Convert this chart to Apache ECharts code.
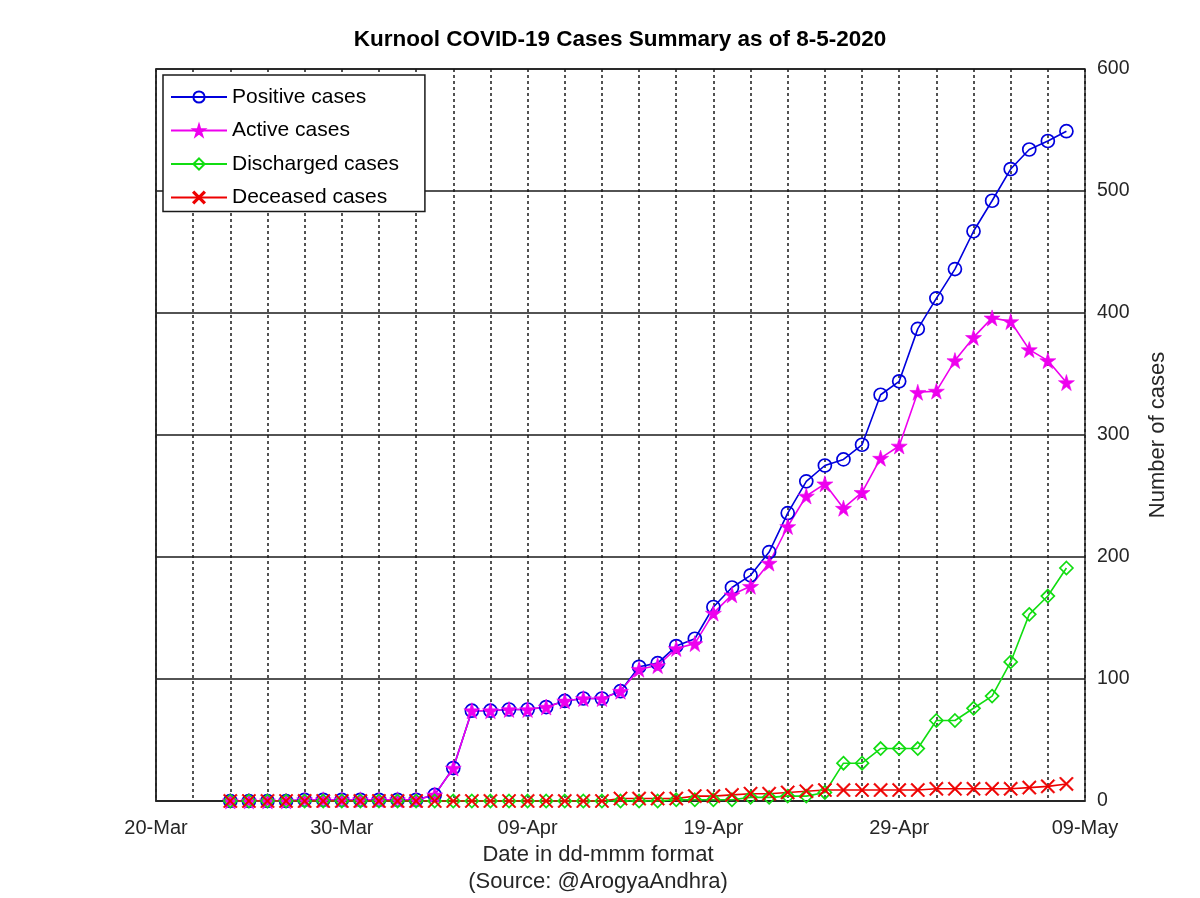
<!DOCTYPE html>
<html lang="en">
  <head>
    <meta charset="utf-8">
    <title>Kurnool COVID-19 Cases Summary</title>
    <script src="https://cdn.jsdelivr.net/npm/echarts@6/dist/echarts.min.js"></script>
    <style>
      html, body { margin: 0; padding: 0; background: #fff; }
      #chart { width: 1200px; height: 898px; }
    </style>
  </head>
  <body>
    <div id="chart"></div>
    <script>
      // x axis starts at this day
      var startDate = '2020-03-20';
      var tickLabels = ['20-Mar', '30-Mar', '09-Apr', '19-Apr', '29-Apr', '09-May'];

      // daily report dates, 24-Mar .. 08-May
      var dates = [
        '2020-03-24', '2020-03-25', '2020-03-26', '2020-03-27', '2020-03-28', '2020-03-29',
        '2020-03-30', '2020-03-31', '2020-04-01', '2020-04-02', '2020-04-03', '2020-04-04',
        '2020-04-05', '2020-04-06', '2020-04-07', '2020-04-08', '2020-04-09', '2020-04-10',
        '2020-04-11', '2020-04-12', '2020-04-13', '2020-04-14', '2020-04-15', '2020-04-16',
        '2020-04-17', '2020-04-18', '2020-04-19', '2020-04-20', '2020-04-21', '2020-04-22',
        '2020-04-23', '2020-04-24', '2020-04-25', '2020-04-26', '2020-04-27', '2020-04-28',
        '2020-04-29', '2020-04-30', '2020-05-01', '2020-05-02', '2020-05-03', '2020-05-04',
        '2020-05-05', '2020-05-06', '2020-05-07', '2020-05-08'
      ];
      var positive = [
        0, 0, 0, 0, 1, 1, 1, 1, 1, 1, 1, 5,
        27, 74, 74, 75, 75, 77, 82, 84, 84, 90, 110, 113,
        127, 133, 159, 175, 185, 204, 236, 262, 275, 280, 292, 333,
        344, 387, 412, 436, 467, 492, 518, 534, 541, 549
      ];
      var active = [
        0, 0, 0, 0, 1, 1, 1, 1, 1, 1, 1, 5,
        27, 74, 74, 75, 75, 77, 82, 84, 84, 90, 108, 111,
        125, 129, 154, 169, 176, 195, 225, 250, 260, 240, 253, 281,
        291, 335, 336, 361, 380, 396, 393, 370, 361, 343
      ];
      var discharged = [
        0, 0, 0, 0, 0, 0, 0, 0, 0, 0, 0, 0,
        0, 0, 0, 0, 0, 0, 0, 0, 0, 0, 0, 0,
        1, 1, 1, 1, 3, 3, 4, 4, 7, 31, 31, 43,
        43, 43, 66, 66, 76, 86, 114, 153, 168, 191
      ];
      var deceased = [
        0, 0, 0, 0, 0, 0, 0, 0, 0, 0, 0, 0,
        0, 0, 0, 0, 0, 0, 0, 0, 0, 2, 2, 2,
        2, 4, 4, 5, 6, 6, 7, 8, 9, 9, 9, 9,
        9, 9, 10, 10, 10, 10, 10, 11, 12, 14
      ];

      var chart = echarts.init(document.getElementById('chart'));
      var FONT = '"Liberation Sans", Arial, sans-serif';
      var INK = '#262626';
      var t0 = Date.parse(startDate);

      // day offset from startDate for every report
      function pairs(values) {
        return dates.map(function (d, i) {
          return [(Date.parse(d) - t0) / 864e5, values[i]];
        });
      }

      var STAR = 'path://M50,0 L61,35 L98,35 L68,57 L79,91 L50,70 L21,91 L32,57 L2,35 L39,35 Z';
      var CROSS = 'path://M0,0.8 L0.8,0 L5,4.2 L9.2,0 L10,0.8 L5.8,5 L10,9.2 L9.2,10 L5,5.8 L0.8,10 L0,9.2 L4.2,5 Z';

      function line(name, values, color, symbol, size, hollow) {
        return {
          name: name,
          type: 'line',
          data: pairs(values),
          symbol: symbol,
          symbolSize: size,
          showAllSymbol: true,
          animation: false,
          lineStyle: { color: color, width: 1.6 },
          itemStyle: hollow
            ? { color: 'rgba(255,255,255,0)', borderColor: color, borderWidth: 1.7 }
            : { color: color, borderColor: color, borderWidth: 0.6 },
          emphasis: { disabled: true }
        };
      }

      var dotted = { color: '#1a1a1a', width: 1.5, type: [3, 3] };

      chart.setOption({
        backgroundColor: '#fff',
        animation: false,
        grid: {
          left: 156, right: 115, top: 69, bottom: 97,
          show: true, borderColor: INK, borderWidth: 1.5, backgroundColor: '#fff'
        },
        legend: {
          orient: 'vertical',
          left: 163, top: 75,
          padding: [11.5, 26, 3.5, 7],
          itemWidth: 56, itemHeight: 14, itemGap: 12.5,
          borderColor: '#1a1a1a', borderWidth: 1.5, backgroundColor: '#fff',
          textStyle: { fontFamily: FONT, fontSize: 21, color: '#000' },
          data: ['Positive cases', 'Active cases', 'Discharged cases', 'Deceased cases']
        },
        xAxis: [{
          type: 'value', min: 0, max: 50, interval: 10,
          axisLine: { show: true, lineStyle: { color: INK, width: 1.5 } },
          axisTick: { show: false },
          axisLabel: {
            margin: 17, fontFamily: FONT, fontSize: 20, color: INK,
            formatter: function (v) { return tickLabels[Math.round(v / 10)]; }
          },
          splitLine: { show: true, lineStyle: dotted },
          minorTick: { show: false, splitNumber: 5 },
          minorSplitLine: { show: true, lineStyle: dotted }
        }],
        yAxis: [{
          type: 'value', min: 0, max: 600, interval: 100, position: 'right',
          name: 'Number of cases', nameLocation: 'middle', nameGap: 62, nameRotate: 90,
          nameTextStyle: { fontFamily: FONT, fontSize: 22, color: INK },
          axisLine: { show: true, lineStyle: { color: INK, width: 1.5 } },
          axisTick: { show: false },
          axisLabel: { margin: 12, fontFamily: FONT, fontSize: 19.5, color: INK },
          splitLine: { show: true, lineStyle: { color: '#1a1a1a', width: 1.5 } }
        }],
        series: [
          line('Positive cases', positive, '#0000dd', 'circle', 13, true),
          line('Active cases', active, '#ee00ee', STAR, 16, false),
          line('Discharged cases', discharged, '#11dd11', 'diamond', 13, true),
          line('Deceased cases', deceased, '#ee0000', CROSS, 14, false)
        ],
        graphic: [
          {
            type: 'text', x: 620, y: 40,
            style: {
              text: 'Kurnool COVID-19 Cases Summary as of 8-5-2020',
              font: 'bold 22.5px ' + FONT, fill: '#000',
              textAlign: 'center', textVerticalAlign: 'middle'
            }
          },
          {
            type: 'text', x: 598, y: 855,
            style: {
              text: 'Date in dd-mmm format',
              font: '22px ' + FONT, fill: INK,
              textAlign: 'center', textVerticalAlign: 'middle'
            }
          },
          {
            type: 'text', x: 598, y: 882,
            style: {
              text: '(Source: @ArogyaAndhra)',
              font: '22px ' + FONT, fill: INK,
              textAlign: 'center', textVerticalAlign: 'middle'
            }
          }
        ]
      });
    </script>
  </body>
</html>
